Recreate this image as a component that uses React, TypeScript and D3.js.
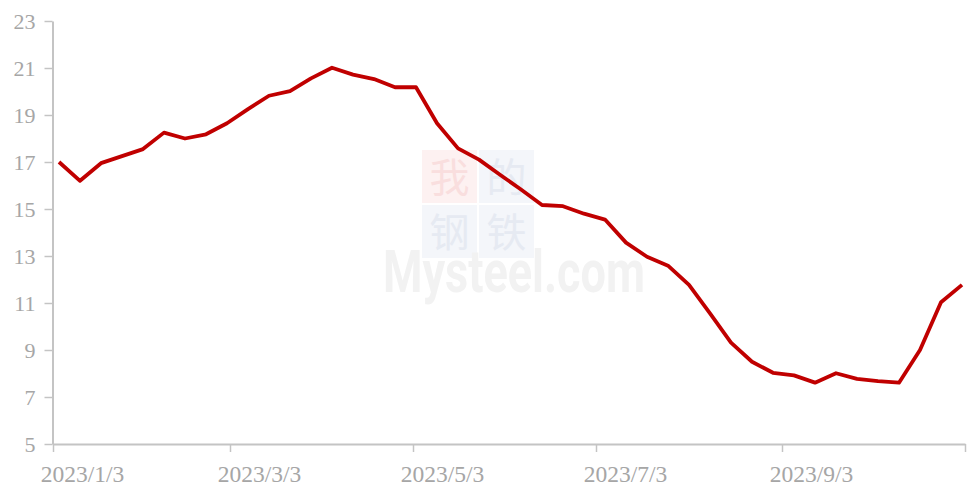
import React, { useEffect, useRef } from 'react';
import * as d3 from 'd3';

const width = 973;
const height = 486;
const margin = { top: 21, bottom: 42, left: 53, right: 8 };

// weekly observation dates
const dates = [
  '2023/1/5', '2023/1/12', '2023/1/19', '2023/1/26',
  '2023/2/2', '2023/2/9', '2023/2/16', '2023/2/23',
  '2023/3/2', '2023/3/9', '2023/3/16', '2023/3/23', '2023/3/30',
  '2023/4/6', '2023/4/13', '2023/4/20', '2023/4/27',
  '2023/5/4', '2023/5/11', '2023/5/18', '2023/5/25',
  '2023/6/1', '2023/6/8', '2023/6/15', '2023/6/22', '2023/6/29',
  '2023/7/6', '2023/7/13', '2023/7/20', '2023/7/27',
  '2023/8/3', '2023/8/10', '2023/8/17', '2023/8/24', '2023/8/31',
  '2023/9/7', '2023/9/14', '2023/9/21', '2023/9/28',
  '2023/10/5', '2023/10/12', '2023/10/19', '2023/10/26',
  '2023/11/2',
];

const values = [
  17.0, 16.2, 16.95, 17.25,
  17.55, 18.25, 18.0, 18.18,
  18.65, 19.25, 19.82, 20.02, 20.56,
  21.01, 20.72, 20.53, 20.18,
  20.18, 18.65, 17.58, 17.1,
  16.46, 15.83, 15.17, 15.12, 14.8,
  14.55, 13.57, 12.97, 12.59,
  11.77, 10.56, 9.31, 8.5, 8.03,
  7.92, 7.61, 8.01, 7.77,
  7.68, 7.61, 9.0, 11.03,
  11.77,
];

const xDomain = ['2023/1/3', '2023/11/3'];
const xTicks = ['2023/1/3', '2023/3/3', '2023/5/3', '2023/7/3', '2023/9/3', '2023/11/3'];
const xTickLabels = ['2023/1/3', '2023/3/3', '2023/5/3', '2023/7/3', '2023/9/3', ''];
const yTicks = [5, 7, 9, 11, 13, 15, 17, 19, 21, 23];

const parse = d3.timeParse('%Y/%m/%d');

const axisColor = '#c4c4c4';
const labelColor = '#a6a6a6';
const lineColor = '#c00000';

export default function App() {
  const root = useRef<SVGSVGElement>(null);

  useEffect(() => {
    const svg = d3.select(root.current);
    svg.selectAll('*').remove();

    const x = d3
      .scaleTime()
      .domain(xDomain.map(d => parse(d) as Date))
      .range([margin.left, width - margin.right]);
    const y = d3
      .scaleLinear()
      .domain([5, 23])
      .range([height - margin.bottom, margin.top]);

    // watermark
    const wm = svg.append('g');
    const boxes = [
      { ch: '我', col: 0, row: 0, bg: '#fdf1f1', fg: '#f9dede' },
      { ch: '的', col: 1, row: 0, bg: '#f4f6fa', fg: '#e6eaf2' },
      { ch: '钢', col: 0, row: 1, bg: '#f4f6fa', fg: '#e6eaf2' },
      { ch: '铁', col: 1, row: 1, bg: '#f4f6fa', fg: '#e6eaf2' },
    ];
    boxes.forEach(b => {
      wm.append('rect')
        .attr('x', 422 + b.col * 57)
        .attr('y', 150 + b.row * 55)
        .attr('width', 55)
        .attr('height', 53)
        .attr('fill', b.bg);
      wm.append('text')
        .attr('x', 422 + b.col * 57 + 27.5)
        .attr('y', 150 + b.row * 55 + 42)
        .attr('text-anchor', 'middle')
        .style('font-family', '"Noto Sans CJK SC", sans-serif')
        .style('font-size', '40px')
        .attr('fill', b.fg)
        .text(b.ch);
    });
    wm.append('text')
      .attr('x', 383)
      .attr('y', 292)
      .attr('textLength', 262)
      .attr('lengthAdjust', 'spacingAndGlyphs')
      .style('font-family', 'Roboto, "DejaVu Sans", sans-serif')
      .style('font-size', '60px')
      .style('font-weight', 'bold')
      .attr('fill', '#f2f2f2')
      .text('Mysteel.com');

    // y axis
    const yAxis = svg
      .append('g')
      .attr('transform', `translate(${margin.left - 0.5},0)`)
      .call(
        d3.axisLeft(y).tickValues(yTicks).tickSize(8).tickSizeOuter(0).tickPadding(9)
      );

    // x axis
    const xAxis = svg
      .append('g')
      .attr('transform', `translate(0,${height - margin.bottom})`)
      .call(
        d3
          .axisBottom(x)
          .tickValues(xTicks.map(d => parse(d) as Date))
          .tickFormat((d, i) => xTickLabels[i])
          .tickSize(8)
          .tickSizeOuter(0)
          .tickPadding(13)
      );

    [yAxis, xAxis].forEach(g => {
      g.select('.domain').attr('stroke', axisColor).attr('stroke-width', 2);
      g.selectAll('.tick line').attr('stroke', axisColor).attr('stroke-width', 1.5);
      g.selectAll('.tick text')
        .attr('fill', labelColor)
        .style('font-family', '"Liberation Serif", "Times New Roman", serif');
    });
    yAxis.selectAll('.tick text').style('font-size', '22px');
    // labels sit to the right of their tick, as in the original
    xAxis.selectAll('.tick text').style('font-size', '23.5px').attr('dx', 29);

    const data = dates.map((d, i) => ({ date: parse(d) as Date, value: values[i] }));
    const line = d3
      .line<{ date: Date; value: number }>()
      .x(d => x(d.date))
      .y(d => y(d.value));

    svg
      .append('path')
      .datum(data)
      .attr('d', line)
      .attr('fill', 'none')
      .attr('stroke', lineColor)
      .attr('stroke-width', 3.8)
      .attr('stroke-linejoin', 'round');
  }, []);

  return (
    <svg
      ref={root}
      width={width}
      height={height}
      style={{ position: 'fixed', left: 0, top: 0, background: '#fff' }}
    />
  );
}
